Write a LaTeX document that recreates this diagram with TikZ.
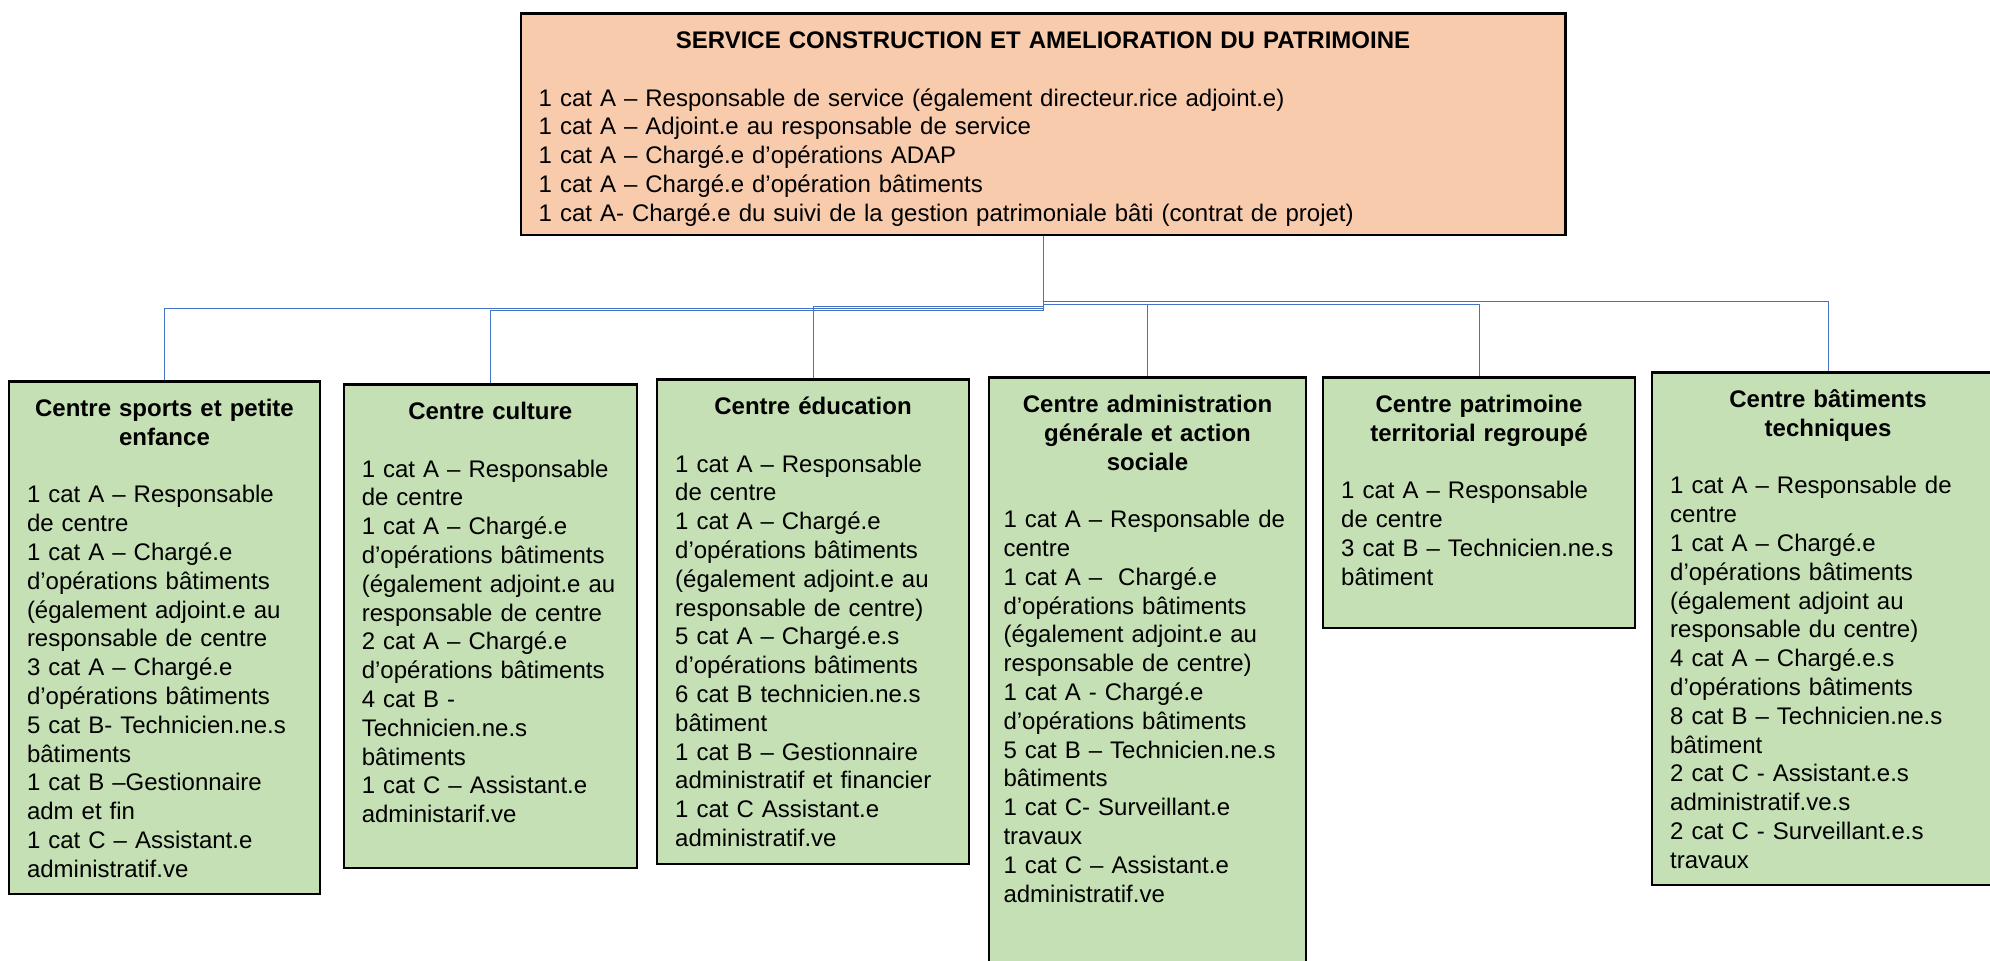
\documentclass[tikz,border=0pt]{standalone}
\usepackage{fontspec}
\setmainfont{Liberation Sans}
\usepackage{xcolor}
\definecolor{servicefill}{HTML}{F8CBAD}
\definecolor{centrefill}{HTML}{C5E0B4}
\definecolor{linkblue}{HTML}{4472C4}

\begin{document}
\begin{tikzpicture}[x=0.5pt, y=-0.5pt,
    every node/.style={font=\fontsize{12pt}{14.4pt}\selectfont},
    service/.style={draw, line width=1.2pt, fill=servicefill, anchor=north, align=left,
        inner xsep=9pt, inner ysep=8.5pt, text height=9pt},
    centre/.style={draw, line width=1.2pt, fill=centrefill, anchor=north, align=left,
        inner xsep=9pt, inner ysep=8.5pt, text height=9pt},
    link/.style={draw=linkblue, line width=0.5pt}]
    \useasboundingbox (0,0) rectangle (1990,960);

    % Service node
    \node[service, text width=504.3pt, text depth=84.8pt] (svc) at (1043,12.2) {%
        {\centering\bfseries SERVICE CONSTRUCTION ET AMELIORATION DU PATRIMOINE\par}
        \vspace{14.4pt}
        1 cat A – Responsable de service (également directeur.rice adjoint.e)\\
        1 cat A – Adjoint.e au responsable de service\\
        1 cat A – Chargé.e d’opérations ADAP\\
        1 cat A – Chargé.e d’opération bâtiments\\
        1 cat A- Chargé.e du suivi de la gestion patrimoniale bâti (contrat de projet)};

    % Centre nodes
    \node[centre, text width=137.5pt, text depth=230.3pt] (sports) at (164.5,380.2) {%
        {\centering\bfseries Centre sports et petite\\ enfance\par}
        \vspace{14.4pt}
        1 cat A – Responsable\\
        de centre\\
        1 cat A – Chargé.e\\
        d’opérations bâtiments\\
        (également adjoint.e au\\
        responsable de centre\\
        3 cat A – Chargé.e\\
        d’opérations bâtiments\\
        5 cat B- Technicien.ne.s\\
        bâtiments\\
        1 cat B –Gestionnaire\\
        adm et fin\\
        1 cat C – Assistant.e\\
        administratif.ve};

    \node[centre, text width=128.5pt, text depth=215.8pt] (culture) at (490.3,383.2) {%
        {\centering\bfseries Centre culture\par}
        \vspace{14.4pt}
        1 cat A – Responsable\\
        de centre\\
        1 cat A – Chargé.e\\
        d’opérations bâtiments\\
        (également adjoint.e au\\
        responsable de centre\\
        2 cat A – Chargé.e\\
        d’opérations bâtiments\\
        4 cat B -\\
        Technicien.ne.s\\
        bâtiments\\
        1 cat C – Assistant.e\\
        administarif.ve};

    \node[centre, text width=137.8pt, text depth=216.3pt] (education) at (813,378.2) {%
        {\centering\bfseries Centre éducation\par}
        \vspace{14.4pt}
        1 cat A – Responsable\\
        de centre\\
        1 cat A – Chargé.e\\
        d’opérations bâtiments\\
        (également adjoint.e au\\
        responsable de centre)\\
        5 cat A – Chargé.e.s\\
        d’opérations bâtiments\\
        6 cat B technicien.ne.s\\
        bâtiment\\
        1 cat B – Gestionnaire\\
        administratif et financier\\
        1 cat C Assistant.e\\
        administratif.ve};

    \node[centre, text width=144pt, inner xsep=7.2pt, text depth=292.8pt] (admin) at (1147.5,376.2) {%
        {\centering\bfseries Centre administration\\ générale et action\\ sociale\par}
        \vspace{14.4pt}
        1 cat A – Responsable de\\
        centre\\
        1 cat A –\ \ Chargé.e\\
        d’opérations bâtiments\\
        (également adjoint.e au\\
        responsable de centre)\\
        1 cat A - Chargé.e\\
        d’opérations bâtiments\\
        5 cat B – Technicien.ne.s\\
        bâtiments\\
        1 cat C- Surveillant.e\\
        travaux\\
        1 cat C – Assistant.e\\
        administratif.ve};

    \node[centre, text width=137.8pt, text depth=99.3pt] (patrimoine) at (1479,376.2) {%
        {\centering\bfseries Centre patrimoine\\ territorial regroupé\par}
        \vspace{14.4pt}
        1 cat A – Responsable\\
        de centre\\
        3 cat B – Technicien.ne.s\\
        bâtiment};

    \node[centre, text width=157.8pt, text depth=230.3pt] (techniques) at (1828,371.2) {%
        {\centering\bfseries Centre bâtiments\\ techniques\par}
        \vspace{14.4pt}
        1 cat A – Responsable de\\
        centre\\
        1 cat A – Chargé.e\\
        d’opérations bâtiments\\
        (également adjoint au\\
        responsable du centre)\\
        4 cat A – Chargé.e.s\\
        d’opérations bâtiments\\
        8 cat B – Technicien.ne.s\\
        bâtiment\\
        2 cat C - Assistant.e.s\\
        administratif.ve.s\\
        2 cat C - Surveillant.e.s\\
        travaux};

    % Connecting service to centres
    \draw[link] (svc.south) -- (svc.south |- 0,308) -| (sports.north);
    \draw[link] (svc.south) -- (svc.south |- 0,310) -| (culture.north);
    \draw[link] (svc.south) -- (svc.south |- 0,306) -| (education.north);
    \draw[link] (svc.south) -- (svc.south |- 0,304) -| (admin.north);
    \draw[link] (svc.south) -- (svc.south |- 0,304) -| (patrimoine.north);
    \draw[link] (svc.south) -- (svc.south |- 0,301) -| (techniques.north);
\end{tikzpicture}
\end{document}
